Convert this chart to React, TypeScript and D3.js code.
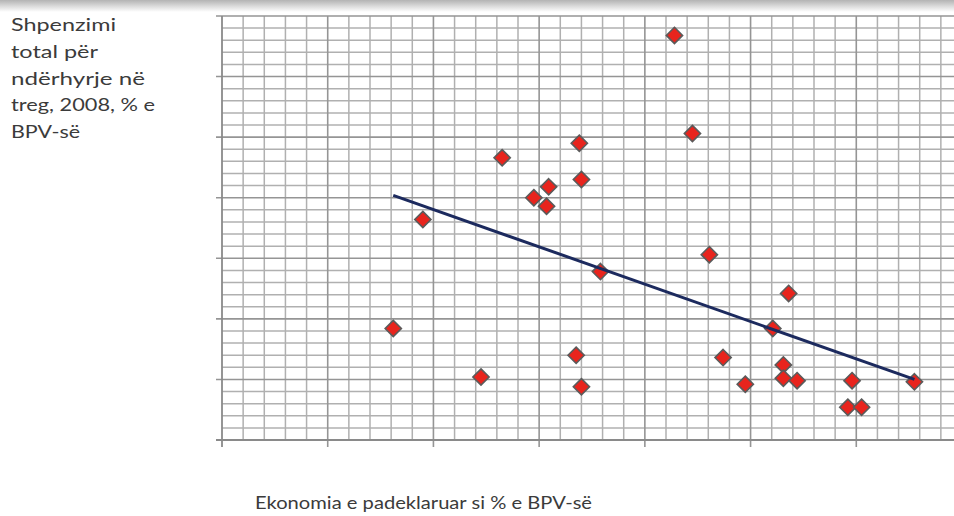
import React, { useEffect, useRef } from "react";
import * as d3 from "d3";

// shadow economy (% of GDP) vs. total spending on market interventions (% of GDP)
const shadowEconomy = [
  42.8, 44.5, 33.8, 26.5, 34.0, 30.9, 29.5, 30.7, 19.0, 46.1, 35.8, 53.6, 16.2,
  52.1, 33.5, 47.4, 53.1, 24.5, 53.1, 54.4, 59.6, 65.5, 49.5, 34.0, 59.2, 60.5,
];
const marketSpending = [
  3.34, 2.53, 2.45, 2.33, 2.15, 2.09, 2.0, 1.93, 1.82, 1.53, 1.39, 1.21, 0.92,
  0.92, 0.7, 0.68, 0.62, 0.52, 0.51, 0.49, 0.49, 0.48, 0.46, 0.44, 0.27, 0.27,
];
const trendX = [16.2, 65.5];
const trendY = [2.02, 0.5];

const yTitle = ["Shpenzimi", "total për", "ndërhyrje në", "treg, 2008, % e", "BPV-së"];
const yTitleWidths = [105, 87, 134, 144, 69];
const xTitle = "Ekonomia e padeklaruar si % e BPV-së";

const W = 954;
const H = 516;

const App: React.FC = () => {
  const svgRef = useRef<SVGSVGElement | null>(null);

  useEffect(() => {
    if (!svgRef.current) return;
    const svg = d3.select(svgRef.current);
    svg.selectAll("*").remove();

    const x = d3.scaleLinear().domain([0, 70]).range([222, 962]);
    const y = d3.scaleLinear().domain([0, 3.5]).range([440, 16]);

    // grey shadow strip along the top
    const defs = svg.append("defs");
    const grad = defs
      .append("linearGradient")
      .attr("id", "topShade")
      .attr("x1", 0)
      .attr("y1", 0)
      .attr("x2", 0)
      .attr("y2", 1);
    grad.append("stop").attr("offset", "0%").attr("stop-color", "#b3b3b3");
    grad.append("stop").attr("offset", "100%").attr("stop-color", "#ffffff");
    svg
      .append("rect")
      .attr("x", 0)
      .attr("y", 0)
      .attr("width", W)
      .attr("height", 12)
      .attr("fill", "url(#topShade)");

    const grid = svg.append("g");
    const xMinor = d3.range(2, 70.01, 2).filter((v) => v % 10 !== 0);
    const yMinor = d3.range(1, 35).map((v) => v / 10).filter((_, i) => (i + 1) % 5 !== 0);
    const xMajor = d3.range(10, 70.01, 10);
    const yMajor = d3.range(0.5, 3.51, 0.5);

    grid
      .selectAll(".vx")
      .data(xMinor)
      .join("line")
      .attr("x1", (d) => x(d))
      .attr("x2", (d) => x(d))
      .attr("y1", y(3.5))
      .attr("y2", y(0))
      .attr("stroke", "#b0b0b0")
      .attr("stroke-width", 1.5);
    grid
      .selectAll(".hy")
      .data(yMinor)
      .join("line")
      .attr("x1", x(0))
      .attr("x2", W)
      .attr("y1", (d) => y(d))
      .attr("y2", (d) => y(d))
      .attr("stroke", "#b0b0b0")
      .attr("stroke-width", 1.5);
    grid
      .selectAll(".VX")
      .data(xMajor)
      .join("line")
      .attr("x1", (d) => x(d))
      .attr("x2", (d) => x(d))
      .attr("y1", y(3.5))
      .attr("y2", y(0) + 7)
      .attr("stroke", "#959595")
      .attr("stroke-width", 1.6);
    grid
      .selectAll(".HY")
      .data(yMajor)
      .join("line")
      .attr("x1", x(0) - 6)
      .attr("x2", W)
      .attr("y1", (d) => y(d))
      .attr("y2", (d) => y(d))
      .attr("stroke", "#959595")
      .attr("stroke-width", 1.6);

    // axes
    grid
      .append("line")
      .attr("x1", x(0))
      .attr("x2", x(0))
      .attr("y1", y(3.5))
      .attr("y2", y(0) + 7)
      .attr("stroke", "#8a8a8a")
      .attr("stroke-width", 1.8);
    grid
      .append("line")
      .attr("x1", x(0) - 6)
      .attr("x2", W)
      .attr("y1", y(0))
      .attr("y2", y(0))
      .attr("stroke", "#8a8a8a")
      .attr("stroke-width", 1.8);

    const pts = shadowEconomy.map((v, i) => ({ x: v, y: marketSpending[i] }));
    const diamond = d3.symbol().type(d3.symbolDiamond2).size(168);
    svg
      .append("g")
      .selectAll("path")
      .data(pts)
      .join("path")
      .attr("transform", (d) => `translate(${x(d.x)},${y(d.y)})`)
      .attr("d", diamond)
      .attr("fill", "#e8241d")
      .attr("stroke", "#5b5b5b")
      .attr("stroke-width", 1.6);

    const trend = trendX.map((v, i) => ({ x: v, y: trendY[i] }));
    svg
      .append("path")
      .datum(trend)
      .attr("fill", "none")
      .attr("stroke", "#1c2a5e")
      .attr("stroke-width", 3)
      .attr(
        "d",
        d3
          .line<{ x: number; y: number }>()
          .x((d) => x(d.x))
          .y((d) => y(d.y))
      );

    const title = svg
      .append("g")
      .attr("font-family", "Lato, 'Open Sans', sans-serif")
      .attr("font-size", 17)
      .attr("fill", "#3b3b3b");
    title
      .selectAll("text")
      .data(yTitle)
      .join("text")
      .attr("x", 11)
      .attr("y", (_, i) => 31 + i * 26.8)
      .attr("textLength", (_, i) => yTitleWidths[i])
      .attr("lengthAdjust", "spacingAndGlyphs")
      .text((d) => d);
    title
      .append("text")
      .attr("x", 255)
      .attr("y", 509)
      .attr("textLength", 337)
      .attr("lengthAdjust", "spacingAndGlyphs")
      .text(xTitle);
  }, []);

  return (
    <svg
      ref={svgRef}
      width={W}
      height={H}
      style={{ position: "absolute", left: 0, top: 0, background: "#fff" }}
    />
  );
};

export default App;
